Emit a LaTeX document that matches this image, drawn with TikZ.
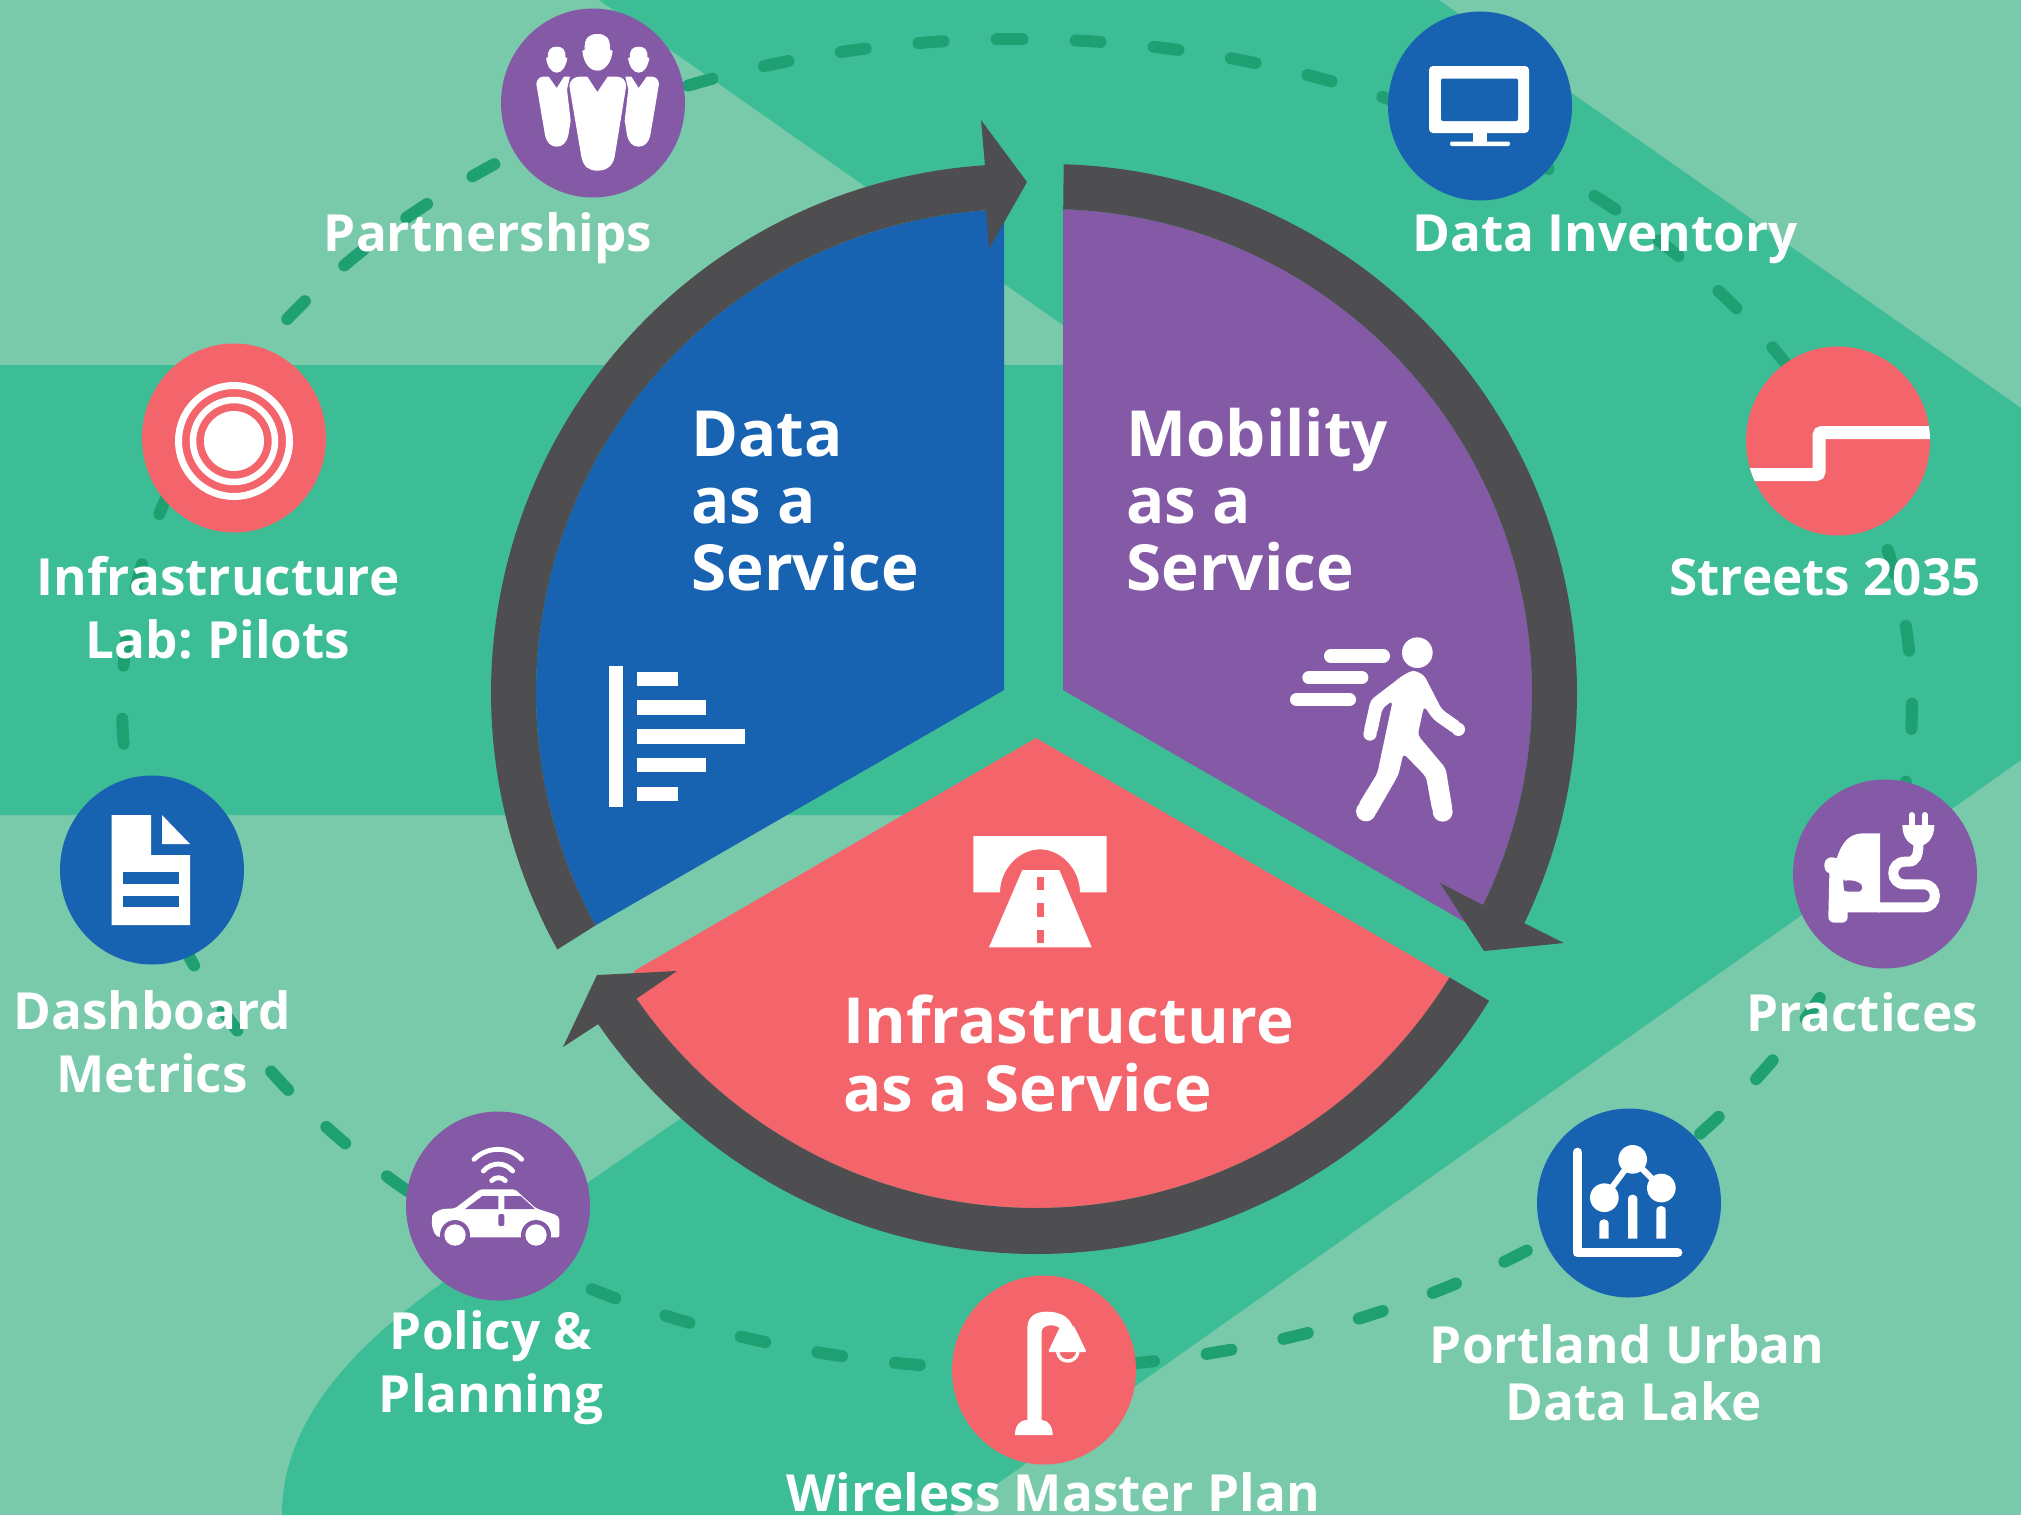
\documentclass[tikz,border=0pt]{standalone}
\usepackage{fontspec}
\usetikzlibrary{shapes.geometric}
\setmainfont{Open Sans}
\definecolor{bglight}{HTML}{79C9AB}
\definecolor{bgdark}{HTML}{3DBD96}
\definecolor{dashgreen}{HTML}{1FA072}
\definecolor{ringgrey}{HTML}{4E4E50}
\definecolor{sblue}{HTML}{1863B1}
\definecolor{spurple}{HTML}{8459A6}
\definecolor{scoral}{HTML}{F3656A}
\newcommand{\ringarc}[5]{plot[domain=#4:#5,samples=120,variable=\t] ({#1+#3*cos(\t)},{#2+#3*sin(\t)})}
\newcommand{\ringto}[5]{-- plot[domain=#4:#5,samples=120,variable=\t] ({#1+#3*cos(\t)},{#2+#3*sin(\t)})}
\tikzset{
  sat/.style={ellipse,minimum width=92pt,minimum height=94.5pt,inner sep=0pt,draw=none},
  lab/.style={text=white,font=\fontsize{25.6}{31.5}\selectfont\bfseries,align=center,inner sep=0pt,anchor=base},
  sect/.style={text=white,font=\fontsize{31.8}{33.5}\selectfont\bfseries,align=left,inner sep=0pt,anchor=base west},
  dashloop/.style={draw=dashgreen,line width=6pt,line cap=round,dash pattern=on 12.5pt off 26.6pt,dash phase=9.75pt},
  zoomicon/.style={x=0.16667pt,y=-0.16667pt}
}
\begin{document}
\begin{tikzpicture}[x=0.5pt,y=-0.5pt]
\path[use as bounding box] (0,0) rectangle (2021,1515);
\fill[bglight] (0,0) rectangle (2021,1515);
% darker ground
\fill[bgdark] (599,0) -- (1439,0) -- (2021,408) -- (2021,760) -- (953,1515) -- (282,1515)
  .. controls (282,1430) and (340,1355) .. (445,1281) -- (680,1119) -- (1114,815) -- (0,815) -- (0,365) -- (1120,365) -- cycle;
% dashed loop
\draw[dashloop] plot[domain=-90:270,samples=361,variable=\t] ({1017+895*cos(\t)},{704+665*sin(\t)});
% sectors
\fill[sblue] (1004,690) -- (1004,209) \ringto{1020}{693}{484}{268.1}{151.3} -- cycle;
\fill[spurple] (1063,690) -- (1063,209) \ringto{1048}{693}{484}{271.8}{388.8} -- cycle;
\fill[scoral] (1036,738) -- (1448,977) \ringto{1036}{722}{486}{31.7}{145.3} -- (634,971) -- cycle;
% rings with arrowheads
\fill[ringgrey] \ringarc{1020}{693}{529}{151}{266.2} -- (981,120) -- (1027,182) -- (989,249) -- (986,210) \ringto{1020}{693}{484}{266}{151.3} -- cycle;
\fill[ringgrey] \ringarc{1048}{693}{529}{271.7}{385.8} -- (1564,943) -- (1484,951) -- (1440,883) -- (1483,905) \ringto{1048}{693}{484}{386}{271.8} -- cycle;
\fill[ringgrey] \ringarc{1036}{722}{532}{31.6}{145.4} -- (563,1047) -- (597,975) -- (677,971) -- (636,999) \ringto{1036}{722}{486}{145.3}{31.7} -- cycle;
% satellites
\node[sat,fill=spurple] (partnerships) at (593,103) {};
\node[sat,fill=sblue] (inventory) at (1480,106) {};
\node[sat,fill=scoral] (streets) at (1838,441) {};
\node[sat,fill=spurple] (practices) at (1885,874) {};
\node[sat,fill=sblue] (lake) at (1629,1203) {};
\node[sat,fill=scoral] (wireless) at (1044,1370) {};
\node[sat,fill=spurple] (policy) at (498,1206) {};
\node[sat,fill=sblue] (dashboard) at (152,870) {};
\node[sat,fill=scoral] (pilots) at (234,438) {};
% people icon
\begin{scope}[shift={(480,0)},zoomicon]
 \fill[white] (352,102) .. controls (328,102) and (312,112) .. (314,150) -- (307,152) .. controls (310,190) and (330,212) .. (352,212) .. controls (374,212) and (394,190) .. (398,152) -- (390,150) .. controls (392,112) and (376,102) .. (352,102) -- cycle;
 \fill[white] (268,258) .. controls (270,240) and (282,230) .. (300,230) -- (322,230) -- (352,276) -- (383,230) -- (410,230) .. controls (428,230) and (440,242) .. (438,262) -- (404,470) .. controls (398,500) and (378,512) .. (352,512) .. controls (326,512) and (310,500) .. (304,470) -- cycle;
 \fill[white] (230,140) .. controls (212,140) and (202,150) .. (204,172) -- (198,174) .. controls (202,200) and (214,218) .. (230,218) .. controls (246,218) and (258,200) .. (262,174) -- (256,172) .. controls (258,150) and (248,140) .. (230,140) -- cycle;
 \fill[white] (169,252) .. controls (170,238) and (180,230) .. (190,230) -- (206,230) -- (230,264) -- (252,230) -- (270,230) -- (261,268) -- (272,362) -- (265,405) .. controls (260,428) and (248,440) .. (230,440) .. controls (212,440) and (200,428) .. (195,405) -- cycle;
 \fill[white] (476,140) .. controls (494,140) and (504,150) .. (502,172) -- (508,174) .. controls (504,200) and (492,218) .. (476,218) .. controls (460,218) and (448,200) .. (444,174) -- (450,172) .. controls (448,150) and (458,140) .. (476,140) -- cycle;
 \fill[white] (537,252) .. controls (536,238) and (526,230) .. (516,230) -- (500,230) -- (476,264) -- (454,230) -- (436,230) -- (445,268) -- (434,362) -- (441,405) .. controls (446,428) and (458,440) .. (476,440) .. controls (494,440) and (506,428) .. (511,405) -- cycle;
\end{scope}
% monitor icon
\fill[white,rounded corners=2pt] (1429,66) rectangle (1529,133);
\fill[sblue,rounded corners=1pt] (1441,78.5) rectangle (1518,121);
\fill[white] (1473,133) rectangle (1487,142);
\fill[white,rounded corners=1pt] (1450,141.5) rectangle (1510,146);
% street icon
\begin{scope}
\clip (1838,441) ellipse[x radius=92,y radius=94.5];
\draw[white,line width=6.5pt,rounded corners=1.5pt] (1740,474.5) -- (1819,474.5) -- (1819,432.5) -- (1940,432.5);
\end{scope}
% target icon
\draw[white,line width=3.5pt] (234,441) circle[radius=55.5];
\draw[white,line width=3.25pt] (234,441) circle[radius=41];
\fill[white] (234,441) circle[radius=30];
% document icon
\fill[white] (111.5,815) -- (151,815) -- (151,855) -- (190,855) -- (190,925) -- (111.5,925) -- cycle;
\fill[white] (162,815) -- (190,844) -- (162,844) -- cycle;
\fill[sblue] (122.5,872) rectangle (179,884);
\fill[sblue] (122.5,896) rectangle (179,907);
% bars icon
\fill[white] (609,666) rectangle (623,807);
\fill[white] (637,672) rectangle (678,686);
\fill[white] (637,700) rectangle (706,715);
\fill[white] (637,729) rectangle (745,744);
\fill[white] (637,758) rectangle (706,772);
\fill[white] (637,787) rectangle (678,801);
% walker icon
\begin{scope}[shift={(1270,620)},zoomicon]
\fill[white] (442,98) circle[radius=46];
\draw[white,line width=6.7pt,line cap=round] (182,108) -- (340,108);
\draw[white,line width=6.7pt,line cap=round] (117,173) -- (275,173);
\draw[white,line width=6.7pt,line cap=round] (80,239) -- (238,239);
\fill[white,rounded corners=2pt] (400,165) -- (430,150) -- (462,165) -- (515,268) -- (575,310) -- (554,343) -- (490,298) -- (462,258) -- (443,345) -- (527,445) -- (548,572) -- (488,578) -- (468,470) -- (400,400) -- (385,465) -- (313,590) -- (263,556) -- (322,460) -- (368,242) -- (337,265) -- (320,345) -- (280,338) -- (302,240) -- cycle;
\fill[white] (565,328) circle[radius=20];
\fill[white] (300,342) circle[radius=20];
\fill[white] (518,575) circle[radius=30];
\fill[white] (288,574) circle[radius=30];
\end{scope}
% road icon
\begin{scope}[shift={(950,810)},zoomicon]
\fill[white] (70,78) -- (470,78) -- (470,247) -- (390,247) .. controls (390,180) and (335,118) .. (270,118) .. controls (205,118) and (150,180) .. (150,247) -- (70,247) -- cycle;
\fill[white] (217,180) -- (328,180) -- (425,412) -- (117,412) -- cycle;
\fill[scoral] (261,200) rectangle (281,240);
\fill[scoral] (261,280) rectangle (281,320);
\fill[scoral] (261,360) rectangle (281,400);
\end{scope}
% car icon
\begin{scope}[shift={(400,1110)},zoomicon]
\draw[white,line width=2.4pt,line cap=round] (222,148) .. controls (262,108) and (328,108) .. (365,148);
\draw[white,line width=2.4pt,line cap=round] (250,183) .. controls (275,155) and (315,155) .. (338,183);
\draw[white,line width=2.4pt,line cap=round] (275,212) .. controls (285,200) and (305,200) .. (316,212);
\fill[white,rounded corners=1pt] (95,345) -- (97,312) -- (125,297) -- (165,295) -- (240,238) -- (345,238) -- (408,295) -- (470,315) -- (478,325) -- (478,382) -- (120,382) -- (105,375) -- cycle;
\fill[spurple] (195,297) -- (247,258) -- (295,258) -- (295,297) -- cycle;
\fill[spurple] (313,258) -- (362,258) -- (405,297) -- (313,297) -- cycle;
\fill[spurple,rounded corners=1pt] (295,312) -- (313,312) -- (313,348) -- (295,348) -- cycle;
\fill[spurple] (165,375) circle[radius=45];
\fill[spurple] (408,375) circle[radius=45];
\fill[spurple] (120,382) rectangle (210,420);
\fill[spurple] (362,382) rectangle (452,420);
\fill[white] (165,375) circle[radius=32];
\fill[white] (408,375) circle[radius=32];
\end{scope}
% plug icon
\begin{scope}[shift={(1780,770)},zoomicon]
\fill[white] (300,190) -- (300,398) -- (300,427) -- (203,427) -- (203,440) .. controls (203,452) and (195,458) .. (185,458) -- (163,458) .. controls (152,458) and (145,450) .. (145,440) -- (148,310) .. controls (135,305) and (133,295) .. (133,283) .. controls (133,270) and (145,260) .. (158,262) -- (170,265) .. controls (185,220) and (205,190) .. (250,190) -- cycle;
\fill[spurple,rounded corners=1pt] (190,333) .. controls (215,328) and (235,335) .. (248,347) -- (243,365) -- (200,365) .. controls (192,362) and (190,345) .. (190,333) -- cycle;
\draw[white,line width=5pt] (295,412) -- (430,412) .. controls (476,412) and (476,343) .. (430,343) -- (375,343) .. controls (328,343) and (328,275) .. (375,275) -- (385,275) .. controls (408,275) and (415,255) .. (415,225);
\fill[white] (367,165) -- (463,165) .. controls (463,205) and (440,228) .. (415,228) .. controls (390,228) and (367,205) .. (367,165) -- cycle;
\draw[white,line width=3pt,line cap=round] (395,135) -- (395,170);
\draw[white,line width=3pt,line cap=round] (434,135) -- (434,170);
\end{scope}
% chart icon
\begin{scope}[shift={(1530,1110)},zoomicon]
\draw[white,line width=4.7pt,line cap=round,line join=round] (142,127) -- (142,428) -- (443,428);
\draw[white,line width=3pt] (223,263) -- (308,148) -- (394,234);
\fill[white] (308,148) circle[radius=43];
\fill[white] (223,263) circle[radius=43];
\fill[white] (394,234) circle[radius=43];
\fill[white] (208,386) -- (208,342) .. controls (208,323) and (236,323) .. (236,342) -- (236,386) -- cycle;
\fill[white] (294,386) -- (294,268) .. controls (294,249) and (322,249) .. (322,268) -- (322,386) -- cycle;
\fill[white] (379,386) -- (379,302) .. controls (379,283) and (407,283) .. (407,302) -- (407,386) -- cycle;
\end{scope}
% lamp icon
\begin{scope}[shift={(990,1290)},zoomicon]
\fill[white] (112,400) -- (112,115) .. controls (112,80) and (135,65) .. (170,65) .. controls (210,65) and (240,80) .. (250,115) -- (207,113) .. controls (190,100) and (155,105) .. (155,125) -- (155,400) -- cycle;
\fill[white] (75,435) .. controls (75,405) and (90,390) .. (112,390) -- (155,390) .. controls (175,390) and (188,410) .. (188,435) -- cycle;
\fill[white,rounded corners=1pt] (210,110) -- (250,105) -- (290,186) -- (174,186) -- cycle;
\draw[white,line width=1.7pt] (203,186) .. controls (208,222) and (258,222) .. (264,186);
\end{scope}
% labels
\node[lab] (l1) at (488,251) {Partnerships};
\node[lab] (l2) at (1605,251) {Data Inventory};
\node[lab] (l3) at (1825,595) {Streets 2035};
\node[lab] (l4) at (218,658) {Infrastructure\\Lab:\hspace{-1.5pt} Pilots};
\node[lab] (l5) at (1862,1031) {Practices};
\node[lab] (l6) at (152,1092) {Dashboard\\Metrics};
\node[lab] (l7) at (491,1412) {Policy \&\\Planning};
\node[lab,font=\fontsize{25.6}{28.5}\selectfont\bfseries] (l8) at (1627,1420) {Portland Urban\\\hspace*{6.5pt}Data Lake};
\node[lab,text depth=0pt] (l9) at (1053,1511) {Wireless Master Plan};
\node[sect] (s1) at (691,590) {Data\\as a\\Service};
\node[sect] (s2) at (1126,590) {Mobility\\as a\\Service};
\node[sect,font=\fontsize{31.8}{34}\selectfont\bfseries] (s3) at (843,1111) {Infrastructure\\as a Service};
\end{tikzpicture}
\end{document}
